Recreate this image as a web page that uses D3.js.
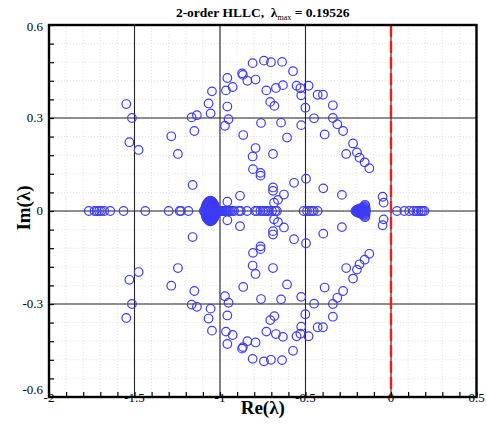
<!DOCTYPE html>
<html>
<head>
<meta charset="utf-8">
<script src="https://cdn.jsdelivr.net/npm/d3@7"></script>
<style>
  body { margin: 0; background: #fff; }
  text { font-family: "Liberation Serif", "Times New Roman", serif; }
</style>
</head>
<body>
<div id="canvas"></div>
<script>
"use strict"

/* Tick values and labels */
let xTicks = [-2, -1.5, -1, -0.5, 0, 0.5];
let xTickLabels = ["-2", "-1.5", "-1", "-0.5", "0", "0.5"];
let yTicks = [-0.6, -0.3, 0, 0.3, 0.6];
let yTickLabels = ["-0.6", "-0.3", "0", "0.3", "0.6"];

/* Eigenvalues lying on the real axis (Im = 0) */
let realEigs = [-1.767, -1.734, -1.720, -1.707, -1.695, -1.677, -1.642, -1.564,
                -1.437, -1.300, -1.236, -1.228, -1.185, -1.095, -1.015,
                -1.008, -1.000, -0.993, -0.985, -0.978, -0.970, -0.962, -0.955,
                -0.948, -0.940, -0.928, -0.918, -0.890,
                -0.879, -0.842, -0.794, -0.784, -0.764, -0.749, -0.735, -0.725,
                -0.716, -0.696, -0.677, -0.667, -0.511, -0.491, -0.476, -0.462,
                -0.452, -0.429, -0.208, -0.198, -0.190, -0.182, -0.175, -0.168,
                -0.160, -0.152, -0.147, 0.035, 0.078, 0.107, 0.132, 0.148,
                0.161, 0.175, 0.185, 0.19526];

/* Complex eigenvalues, [Re, Im] of the upper member of each conjugate pair */
let conjPairs = [
    [-1.548, 0.345], [-1.515, 0.300], [-1.530, 0.222], [-1.476, 0.197],
    [-1.285, 0.241], [-1.246, 0.184], [-1.166, 0.302], [-1.135, 0.309],
    [-1.150, 0.258], [-1.160, 0.084],
    [-0.809, 0.477], [-0.743, 0.485], [-0.702, 0.480], [-0.637, 0.481],
    [-0.573, 0.451], [-0.871, 0.444], [-0.866, 0.439], [-0.957, 0.429],
    [-0.840, 0.420], [-0.792, 0.424], [-0.926, 0.400], [-0.965, 0.389],
    [-1.047, 0.386], [-0.729, 0.389], [-0.673, 0.397], [-0.632, 0.406],
    [-0.552, 0.404], [-0.530, 0.396], [-0.482, 0.404], [-0.525, 0.373],
    [-0.429, 0.375], [-0.398, 0.375], [-0.706, 0.352], [-0.682, 0.339],
    [-1.067, 0.347], [-0.957, 0.337], [-1.055, 0.315], [-0.501, 0.333],
    [-0.340, 0.341], [-0.950, 0.296], [-0.971, 0.275], [-0.760, 0.284],
    [-0.643, 0.285], [-0.525, 0.277], [-0.450, 0.299], [-0.340, 0.300],
    [-0.314, 0.280], [-0.280, 0.258], [-0.864, 0.245], [-0.608, 0.237],
    [-0.388, 0.247], [-0.792, 0.203], [-0.809, 0.176], [-0.690, 0.184],
    [-0.807, 0.135], [-0.763, 0.123], [-0.763, 0.114], [-0.567, 0.091],
    [-0.497, 0.104], [-0.690, 0.076], [-0.690, 0.065], [-0.626, 0.053],
    [-0.661, 0.036], [-0.684, 0.027], [-0.883, 0.049], [-0.957, 0.030],
    [-0.396, 0.073], [-0.287, 0.052], [-0.222, 0.218], [-0.262, 0.184],
    [-0.199, 0.189], [-0.184, 0.172], [-0.154, 0.157], [-0.127, 0.138],
    [-0.049, 0.046], [-0.043, 0.027],
    /* dense cluster near -1.05 */
    [-1.088, 0.004], [-1.083, 0.014], [-1.077, 0.023], [-1.067, 0.030],
    [-1.056, 0.033], [-1.045, 0.030], [-1.036, 0.023], [-1.030, 0.014],
    [-1.025, 0.004], [-1.070, 0.010], [-1.040, 0.010], [-1.056, 0.020],
    [-1.060, 0.005], [-1.050, 0.008], [-1.085, 0.010], [-1.080, 0.020],
    [-1.072, 0.027], [-1.062, 0.032], [-1.051, 0.032], [-1.041, 0.027],
    [-1.033, 0.020], [-1.027, 0.010], [-1.075, 0.015], [-1.065, 0.022],
    [-1.047, 0.022], [-1.037, 0.015], [-1.065, 0.012], [-1.045, 0.016],
    [-1.058, 0.027], [-1.080, 0.006], [-1.030, 0.006],
    /* small cluster near -0.17 */
    [-0.165, 0.008], [-0.156, 0.012], [-0.150, 0.016], [-0.160, 0.015],
    [-0.175, 0.005], [-0.200, 0.004], [-0.190, 0.006], [-0.180, 0.008],
    [-0.170, 0.010], [-0.158, 0.005], [-0.148, 0.008], [-0.152, 0.020]
];

let lambdaMax = "0.19526";

/* Drawing configuration */
let svgWidth = 487;
let svgHeight = 439;
let plotLeft = 49;
let plotRight = 476.5;
let plotTop = 25;
let plotBottom = 397;

let svg = d3.select("#canvas")
    .append("svg")
    .attr("width", svgWidth)
    .attr("height", svgHeight);

let xScale = d3.scaleLinear()
    .domain([-2, 0.5])
    .range([plotLeft, plotRight]);

let yScale = d3.scaleLinear()
    .domain([-0.6, 0.6])
    .range([plotBottom, plotTop]);

/* minor dotted grid */
let xMinor = d3.range(-2, 0.5001, 0.1);
let yMinor = d3.range(-0.6, 0.6001, 0.06);

svg.append("g").selectAll("line")
    .data(xMinor)
    .join("line")
    .attr("x1", d => xScale(d))
    .attr("x2", d => xScale(d))
    .attr("y1", plotTop)
    .attr("y2", plotBottom)
    .attr("stroke", "#d4d4d4")
    .attr("stroke-width", 0.7)
    .attr("stroke-dasharray", "1,2");

svg.append("g").selectAll("line")
    .data(yMinor)
    .join("line")
    .attr("x1", plotLeft)
    .attr("x2", plotRight)
    .attr("y1", d => yScale(d))
    .attr("y2", d => yScale(d))
    .attr("stroke", "#d4d4d4")
    .attr("stroke-width", 0.7)
    .attr("stroke-dasharray", "1,2");

/* major grid */
svg.append("g").selectAll("line")
    .data(xTicks.slice(1, -1))
    .join("line")
    .attr("x1", d => xScale(d))
    .attr("x2", d => xScale(d))
    .attr("y1", plotTop)
    .attr("y2", plotBottom)
    .attr("stroke", "#222")
    .attr("stroke-width", 1.1);

svg.append("g").selectAll("line")
    .data(yTicks.slice(1, -1))
    .join("line")
    .attr("x1", plotLeft)
    .attr("x2", plotRight)
    .attr("y1", d => yScale(d))
    .attr("y2", d => yScale(d))
    .attr("stroke", "#222")
    .attr("stroke-width", 1.1);

/* stability limit Re = 0 */
svg.append("line")
    .attr("x1", xScale(0))
    .attr("x2", xScale(0))
    .attr("y1", plotTop)
    .attr("y2", plotBottom)
    .attr("stroke", "#e8201c")
    .attr("stroke-width", 2.4)
    .attr("stroke-dasharray", "12,4");

/* eigenvalue circles */
let points = realEigs.map(r => [r, 0])
    .concat(conjPairs)
    .concat(conjPairs.map(p => [p[0], -p[1]]));

svg.append("g").selectAll("circle")
    .data(points)
    .join("circle")
    .attr("cx", d => xScale(d[0]))
    .attr("cy", d => yScale(d[1]))
    .attr("r", 4.3)
    .attr("fill", "none")
    .attr("stroke", "#3c3cf5")
    .attr("stroke-width", 1.2);

/* inward ticks */
svg.append("g")
    .attr("transform", "translate(0," + plotBottom + ")")
    .call(d3.axisBottom(xScale).tickValues(xMinor).tickSize(-5).tickFormat(""))
    .call(g => g.select(".domain").remove())
    .selectAll("line").attr("stroke-width", 1.2);

svg.append("g")
    .attr("transform", "translate(" + plotLeft + ",0)")
    .call(d3.axisLeft(yScale).tickValues(yMinor).tickSize(-5).tickFormat(""))
    .call(g => g.select(".domain").remove())
    .selectAll("line").attr("stroke-width", 1.2);

/* frame */
svg.append("rect")
    .attr("x", plotLeft)
    .attr("y", plotTop)
    .attr("width", plotRight - plotLeft)
    .attr("height", plotBottom - plotTop)
    .attr("fill", "none")
    .attr("stroke", "black")
    .attr("stroke-width", 2.4);

/* tick labels */
svg.append("g").selectAll("text")
    .data(xTicks)
    .join("text")
    .attr("x", d => xScale(d))
    .attr("y", plotBottom + 5)
    .attr("text-anchor", "middle")
    .style("font-size", "13px")
    .text((d, i) => xTickLabels[i]);

svg.append("g").selectAll("text")
    .data(yTicks)
    .join("text")
    .attr("x", plotLeft - 6)
    .attr("y", d => yScale(d) + 4 + (d === -0.6 ? -7 : 0) + (d === 0.6 ? 2 : 0))
    .attr("text-anchor", "end")
    .style("font-size", "13px")
    .text((d, i) => yTickLabels[i]);

/* axis titles */
svg.append("text")
    .attr("x", (plotLeft + plotRight) / 2)
    .attr("y", 414)
    .attr("text-anchor", "middle")
    .style("font-size", "19px")
    .style("font-weight", "bold")
    .text("Re(λ)");

svg.append("text")
    .attr("transform", "translate(30,208) rotate(-90)")
    .attr("text-anchor", "middle")
    .style("font-size", "19px")
    .style("font-weight", "bold")
    .text("Im(λ)");

/* title */
let title = svg.append("text")
    .attr("x", (plotLeft + plotRight) / 2)
    .attr("y", 17)
    .attr("text-anchor", "middle")
    .style("font-size", "13.5px")
    .style("font-weight", "bold");
title.append("tspan").text("2-order HLLC,\u00a0 λ");
title.append("tspan").attr("dy", 3).style("font-size", "8px").style("font-weight", "normal").text("max");
title.append("tspan").attr("dy", -3).text(" = " + lambdaMax);
</script>
</body>
</html>
